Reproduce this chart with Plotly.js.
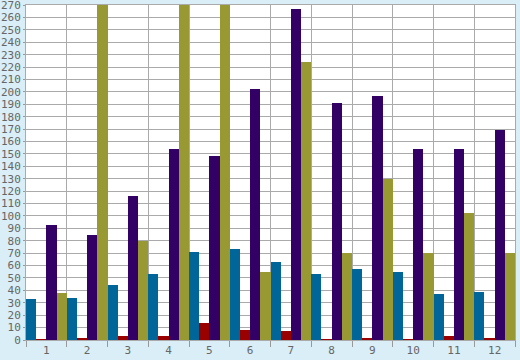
<!DOCTYPE html>
<html><head><meta charset="utf-8">
<script src="https://cdn.plot.ly/plotly-3.0.1.min.js"></script>
<style>html,body{margin:0;padding:0;background:#d9eef6}</style>
</head><body><div id="chart" style="width:520px;height:360px"></div>
<script>
const categories = ['1','2','3','4','5','6','7','8','9','10','11','12'];
const seriesA = [33, 34, 44, 53, 71, 73, 63, 53, 57, 55, 37, 39];
const seriesB = [1, 2, 3, 3, 14, 8, 7, 0.5, 2, 0.5, 3, 1.5];
const seriesC = [93, 85, 116, 154, 148, 202, 267, 191, 197, 154, 154, 169];
const seriesD = [38, 290, 80, 290, 290, 55, 224, 70, 130, 70, 102, 70];
const yTicks = [0,10,20,30,40,50,60,70,80,90,100,110,120,130,140,150,160,170,180,190,200,210,220,230,240,250,260,270];
const colors = ['#006699', '#990000', '#330066', '#999933'];
const data = [seriesA, seriesB, seriesC, seriesD].map((v, i) => ({
  type: 'bar', x: categories, y: v, marker: {color: colors[i], line: {width: 0}},
  hoverinfo: 'none'
}));
const layout = {
  width: 520, height: 360,
  margin: {l: 26, r: 5, t: 5, b: 20},
  paper_bgcolor: '#d9eef6', plot_bgcolor: '#ffffff',
  showlegend: false,
  barmode: 'group', bargap: 0, bargroupgap: 0,
  font: {family: 'DejaVu Sans Mono', size: 11, color: '#666666'},
  xaxis: {type: 'category', tickson: 'boundaries', showgrid: true, gridcolor: '#aaaaaa', gridwidth: 1,
    ticks: 'outside', ticklen: 6, tickcolor: '#999999', showline: true, linecolor: '#aaaaaa', mirror: true,
    tickfont: {family: 'DejaVu Sans Mono', size: 11, color: '#666666'}, zeroline: false},
  yaxis: {range: [0, 270.05], tickmode: 'array', tickvals: yTicks, ticktext: yTicks.map(String),
    showgrid: true, gridcolor: '#aaaaaa', gridwidth: 1,
    ticks: 'outside', ticklen: 2, tickcolor: '#999999', showline: true, linecolor: '#aaaaaa', mirror: true,
    zeroline: false, tickfont: {family: 'DejaVu Sans Mono', size: 11, color: '#666666'}, ticklabelstandoff: 0,
    ticklabeloverflow: 'allow'}
};
Plotly.newPlot('chart', data, layout, {staticPlot: true, displayModeBar: false});
</script></body></html>
